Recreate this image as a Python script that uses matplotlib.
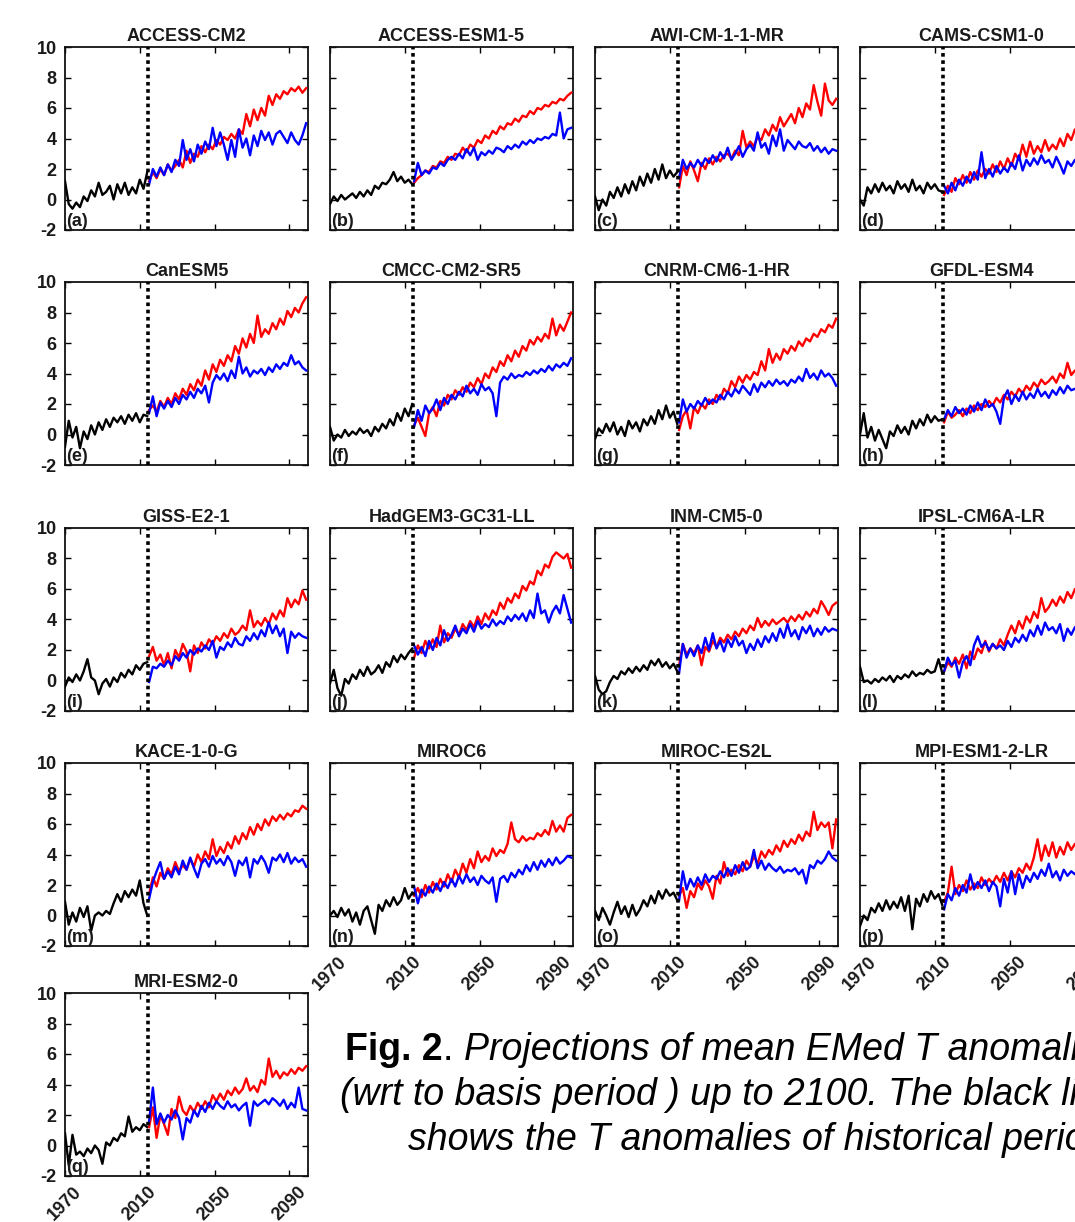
import numpy as np
import matplotlib
matplotlib.use("Agg")
import matplotlib.pyplot as plt

# ---------------- data ----------------
models = ["ACCESS-CM2", "ACCESS-ESM1-5", "AWI-CM-1-1-MR", "CAMS-CSM1-0",
          "CanESM5", "CMCC-CM2-SR5", "CNRM-CM6-1-HR", "GFDL-ESM4",
          "GISS-E2-1", "HadGEM3-GC31-LL", "INM-CM5-0", "IPSL-CM6A-LR",
          "KACE-1-0-G", "MIROC6", "MIROC-ES2L", "MPI-ESM1-2-LR", "MRI-ESM2-0"]
letters = ["(a)", "(b)", "(c)", "(d)", "(e)", "(f)", "(g)", "(h)", "(i)",
           "(j)", "(k)", "(l)", "(m)", "(n)", "(o)", "(p)", "(q)"]
x_ticks = [1970, 2010, 2050, 2090]
y_ticks = [-2, 0, 2, 4, 6, 8, 10]
hist_start, fut_start, step = 1970, 2015, 2
split_year = 2014.5

# (a) ACCESS-CM2
hist_a = [1.2, -0.3, -0.6, -0.2, -0.5, 0.2, -0.1, 0.6, 0.2, 1.1, 0.3, 0.5, 0.9, 0.0, 1.0,
          0.4, 1.1, 0.3, 0.8, 0.4, 1.3, 0.7, 1.8]
red_a = [1.2, 1.8, 1.4, 2.0, 1.6, 2.3, 1.9, 2.2, 2.6, 2.1, 3.2, 2.4, 3.0, 2.8, 3.5,
         3.1, 3.6, 3.3, 3.9, 3.6, 4.1, 3.9, 4.3, 4.0, 4.6, 4.3, 5.6, 4.8, 5.9, 5.2,
         6.0, 5.5, 6.8, 6.2, 6.9, 6.6, 7.1, 6.9, 7.3, 7.1, 7.4, 7.0, 7.3]
blue_a = [1.0, 2.0, 1.5, 2.1, 1.6, 2.3, 1.8, 2.6, 2.2, 3.9, 2.6, 3.3, 2.5, 3.6, 3.0,
          3.8, 3.3, 4.7, 3.5, 4.4, 3.6, 2.6, 3.9, 2.8, 4.6, 3.4, 4.0, 2.9, 4.2, 3.5,
          4.5, 3.9, 4.4, 3.6, 4.3, 4.5, 4.1, 3.7, 4.4, 3.9, 3.6, 4.2, 5.0]
# (b) ACCESS-ESM1-5
hist_b = [-0.3, 0.2, -0.1, 0.3, 0.0, 0.2, 0.4, 0.1, 0.5, 0.2, 0.6, 0.3, 0.9, 0.7, 1.1,
          1.0, 1.3, 1.8, 1.2, 1.5, 1.1, 1.3, 1.0]
red_b = [1.1, 1.4, 1.6, 1.9, 1.8, 2.2, 2.1, 2.5, 2.4, 2.8, 2.6, 3.0, 2.9, 3.4, 3.1,
         3.6, 3.4, 3.9, 3.7, 4.2, 4.0, 4.5, 4.3, 4.8, 4.6, 5.0, 4.9, 5.3, 5.1, 5.5,
         5.4, 5.8, 5.6, 6.0, 5.9, 6.2, 6.1, 6.4, 6.3, 6.6, 6.5, 6.8, 7.0]
blue_b = [1.2, 2.4, 1.6, 1.9, 1.7, 2.1, 2.0, 2.4, 2.2, 2.6, 2.8, 2.6, 3.0, 2.7, 3.3,
          2.9, 3.4, 2.6, 3.1, 2.9, 3.2, 3.0, 3.4, 3.3, 3.1, 3.5, 3.3, 3.6, 3.4, 3.8,
          3.6, 3.9, 3.7, 4.0, 3.9, 4.1, 4.0, 4.3, 4.2, 5.7, 4.0, 4.6, 4.7]
# (c) AWI-CM-1-1-MR
hist_c = [0.2, -0.7, 0.0, -0.4, 0.5, 0.1, 0.8, 0.2, 1.0, 0.4, 1.2, 0.6, 1.5, 0.9, 1.7,
          1.1, 2.0, 1.3, 2.3, 1.4, 1.9, 1.5, 1.8]
red_c = [0.8, 2.2, 1.6, 2.5, 1.9, 1.2, 2.4, 2.0, 2.7, 2.3, 2.8, 2.5, 2.9, 3.0, 2.7,
         3.2, 2.9, 4.5, 3.4, 3.8, 3.5, 4.1, 3.9, 4.6, 4.2, 4.9, 4.5, 5.4, 4.8, 5.2,
         5.6, 5.0, 6.0, 5.4, 6.3, 5.9, 7.5, 6.4, 5.5, 7.6, 6.5, 6.2, 6.6]
blue_c = [1.4, 2.6, 2.0, 2.4, 2.1, 2.6, 2.2, 2.7, 2.4, 2.9, 2.5, 3.1, 2.7, 3.4, 2.6,
          3.0, 3.5, 2.8, 3.3, 3.6, 3.2, 4.4, 3.4, 3.7, 3.0, 4.2, 3.5, 4.6, 3.2, 3.9,
          3.6, 3.3, 3.8, 3.5, 3.4, 3.7, 3.2, 3.5, 3.1, 3.4, 3.0, 3.3, 3.2]
# (d) CAMS-CSM1-0
hist_d = [0.0, -0.4, 0.8, 0.4, 1.0, 0.5, 1.1, 0.6, 0.9, 0.4, 1.2, 0.7, 1.0, 0.5, 1.3,
          0.6, 0.9, 0.4, 1.1, 0.7, 1.0, 0.6, 0.5]
red_d = [0.3, 0.9, 0.5, 1.4, 1.0, 1.6, 1.1, 1.8, 1.3, 1.9, 1.5, 2.0, 1.7, 2.3, 1.8,
         2.5, 2.0, 2.7, 2.2, 3.0, 2.6, 3.6, 2.8, 3.8, 3.0, 3.5, 3.1, 3.9, 3.2, 3.6,
         3.3, 4.0, 3.5, 4.3, 3.9, 4.6, 4.1, 4.8, 4.4, 5.0, 4.7, 5.1, 4.9]
blue_d = [0.9, 0.4, 1.1, 0.6, 1.3, 0.9, 1.5, 1.1, 1.8, 1.3, 3.1, 1.4, 2.0, 1.5, 2.2,
          1.7, 2.1, 1.8, 2.4, 2.0, 2.9, 1.9, 2.6, 2.2, 2.7, 2.3, 2.9, 2.4, 2.6, 2.1,
          2.8, 2.3, 1.7, 2.5, 2.2, 2.6, 2.4, 2.8, 2.5, 2.9, 2.7, 3.0, 2.8]
# (e) CanESM5
hist_e = [-0.8, 0.9, -0.2, 0.5, -0.9, 0.2, -0.3, 0.6, 0.0, 0.8, 0.3, 1.0, 0.5, 1.1, 0.8,
          1.2, 0.7, 1.3, 0.9, 1.4, 0.8, 1.3, 1.2]
red_e = [1.6, 1.9, 1.5, 2.2, 1.8, 2.4, 2.0, 2.7, 2.3, 3.0, 2.6, 3.3, 2.9, 3.6, 3.2,
         4.2, 3.6, 4.6, 4.1, 4.9, 4.5, 5.2, 4.8, 5.8, 5.3, 6.3, 5.7, 6.6, 6.0, 7.8,
         6.4, 6.9, 6.6, 7.3, 6.9, 7.6, 7.2, 8.1, 7.7, 8.3, 8.0, 8.6, 9.0]
blue_e = [1.4, 2.5, 1.2, 2.1, 1.7, 2.2, 1.8, 2.4, 2.0, 2.6, 2.3, 2.8, 2.4, 3.0, 2.7,
          3.2, 2.1, 3.4, 3.9, 3.6, 4.0, 3.5, 4.2, 3.7, 5.1, 4.0, 4.4, 3.8, 4.2, 4.0,
          4.3, 3.9, 4.4, 4.1, 4.6, 4.3, 4.7, 4.5, 5.2, 4.6, 4.8, 4.4, 4.2]
# (f) CMCC-CM2-SR5
hist_f = [0.5, -0.4, 0.0, -0.2, 0.3, -0.1, 0.2, 0.0, 0.4, 0.1, 0.3, -0.1, 0.5, 0.2, 0.7,
          0.4, 1.0, 0.6, 1.4, 0.9, 1.7, 1.2, 2.0]
red_f = [0.6, 1.1, 0.5, -0.1, 1.4, 1.8, 1.2, 2.2, 1.9, 2.6, 2.3, 2.9, 2.6, 3.1, 2.8,
         3.4, 3.1, 3.7, 3.3, 4.0, 3.7, 4.4, 4.1, 4.8, 4.5, 5.2, 4.8, 5.5, 5.1, 5.8,
         5.5, 6.2, 5.9, 6.4, 6.1, 6.6, 6.3, 7.6, 6.5, 7.2, 6.8, 7.4, 8.0]
blue_f = [0.5, 1.6, 0.9, 1.9, 1.4, 1.7, 2.3, 1.6, 2.4, 2.0, 2.6, 2.3, 2.8, 2.5, 3.2,
          2.7, 3.0, 2.6, 3.3, 2.9, 3.1, 2.7, 1.2, 3.4, 3.8, 3.6, 4.0, 3.7, 3.9, 3.8,
          4.1, 3.9, 4.2, 4.0, 4.3, 4.1, 4.5, 4.2, 4.6, 4.4, 4.7, 4.5, 5.0]
# (g) CNRM-CM6-1-HR
hist_g = [-0.3, 0.4, 0.1, 0.7, 0.2, 0.8, 0.0, 0.5, -0.1, 0.9, 0.4, 0.8, 0.2, 1.0, 0.6,
          1.2, 0.7, 1.6, 1.0, 1.9, 1.1, 1.5, 0.7]
red_g = [0.3, 1.2, 1.6, 0.4, 1.8, 1.4, 2.0, 1.7, 2.3, 2.0, 2.6, 2.3, 3.0, 2.7, 3.5,
         3.1, 3.8, 3.4, 3.9, 3.6, 4.1, 3.9, 4.8, 4.2, 5.6, 4.7, 5.3, 4.9, 5.6, 5.3,
         5.8, 5.5, 6.1, 5.8, 6.3, 6.1, 6.6, 6.4, 6.9, 6.7, 7.2, 7.0, 7.6]
blue_g = [0.8, 2.3, 1.5, 2.0, 1.7, 2.2, 1.9, 2.4, 2.0, 2.3, 2.1, 2.6, 2.3, 2.8, 2.5,
          3.0, 2.7, 3.2, 2.9, 2.6, 3.3, 2.8, 3.4, 3.1, 3.5, 3.2, 3.6, 3.3, 3.5, 3.2,
          3.6, 3.4, 3.8, 3.5, 4.3, 3.7, 4.0, 3.6, 4.2, 3.8, 4.0, 3.7, 3.2]
# (h) GFDL-ESM4
hist_h = [0.0, 1.4, -0.2, 0.5, -0.4, 0.3, -0.3, -0.9, 0.2, -0.1, 0.6, 0.1, 0.5, 0.0, 0.9,
          0.4, 1.0, 0.6, 1.3, 0.8, 1.2, 0.9, 1.0]
red_h = [0.8, 1.5, 1.1, 1.3, 1.6, 1.2, 1.7, 1.4, 1.9, 1.6, 2.0, 1.8, 2.2, 1.9, 2.4,
         2.1, 2.6, 2.3, 2.8, 2.5, 3.0, 2.7, 3.2, 2.9, 3.4, 3.1, 3.6, 3.3, 3.5, 3.8,
         3.4, 4.0, 3.7, 4.7, 3.9, 4.2, 4.0, 4.4, 4.1, 4.6, 4.3, 4.7, 4.5]
blue_h = [1.0, 1.6, 1.2, 1.8, 1.4, 1.7, 1.3, 1.9, 1.5, 2.1, 1.6, 2.3, 1.8, 2.0, 1.5,
          0.7, 2.4, 2.9, 2.0, 2.6, 2.2, 2.8, 2.3, 2.7, 2.4, 3.0, 2.5, 2.8, 2.4, 2.9,
          2.6, 3.1, 2.7, 3.2, 2.9, 3.0, 2.8, 3.3, 3.0, 3.4, 3.1, 3.5, 3.3]
# (i) GISS-E2-1
hist_i = [-0.4, 0.2, -0.1, 0.4, 0.0, 0.6, 1.4, 0.2, 0.0, -0.9, -0.2, 0.1, -0.4, 0.2, -0.1,
          0.5, 0.2, 0.7, 0.4, 1.0, 0.7, 1.1, 1.2]
red_i = [1.6, 2.2, 1.3, 1.7, 1.0, 1.8, 0.8, 2.0, 1.5, 2.4, 1.9, 0.6, 2.3, 1.8, 2.5,
         2.1, 2.7, 2.4, 2.9, 2.6, 3.1, 2.8, 3.4, 3.0, 3.2, 3.6, 3.3, 4.6, 3.5, 3.9,
         3.6, 4.1, 3.7, 4.4, 4.0, 4.6, 4.2, 5.4, 4.8, 5.3, 5.0, 5.9, 5.3]
blue_i = [-0.1, 0.9, 0.8, 1.1, 0.9, 1.3, 1.0, 1.6, 1.3, 1.8, 1.5, 2.0, 1.7, 2.1, 1.9,
          2.3, 2.0, 2.6, 1.5, 2.2, 2.0, 2.5, 2.2, 2.8, 2.4, 2.3, 2.9, 2.6, 3.1, 2.7,
          3.3, 2.9, 3.8, 3.1, 3.6, 2.9, 3.4, 1.8, 3.2, 2.8, 3.1, 2.9, 2.8]
# (j) HadGEM3-GC31-LL
hist_j = [-0.2, 0.7, -0.5, -1.0, 0.1, -0.2, 0.4, 0.1, 0.7, 0.3, 0.9, 0.4, 0.6, 1.0, 0.5,
          1.2, 0.9, 1.6, 1.2, 1.7, 1.4, 1.8, 2.1]
red_j = [1.5, 2.3, 1.8, 2.6, 2.1, 2.7, 2.2, 3.6, 2.5, 3.1, 2.8, 3.4, 3.0, 3.7, 3.3,
         3.9, 3.5, 4.2, 3.7, 4.4, 4.0, 4.6, 4.3, 5.1, 4.7, 5.4, 5.1, 5.7, 5.4, 6.2,
         5.9, 6.5, 6.3, 7.2, 6.9, 7.6, 7.4, 8.1, 8.4, 8.2, 8.0, 8.3, 7.4]
blue_j = [2.3, 1.7, 2.2, 1.6, 2.6, 2.0, 2.8, 2.3, 3.3, 2.6, 3.0, 3.6, 2.9, 3.4, 3.1,
          3.7, 3.2, 3.9, 3.4, 3.7, 3.5, 4.0, 3.6, 3.9, 3.7, 4.2, 3.9, 4.3, 4.0, 4.4,
          3.9, 4.6, 4.1, 5.7, 4.4, 4.6, 3.8, 4.5, 4.9, 4.4, 5.6, 4.7, 3.8]
# (k) INM-CM5-0
hist_k = [0.3, -0.6, -0.9, -0.7, -0.1, 0.3, 0.1, 0.6, 0.4, 0.8, 0.5, 0.9, 0.6, 1.0, 0.7,
          1.3, 1.0, 1.4, 0.9, 1.2, 0.8, 1.1, 0.6]
red_k = [1.0, 2.4, 1.7, 2.1, 1.8, 2.3, 1.0, 2.2, 1.9, 2.6, 2.2, 2.8, 2.5, 3.0, 2.7,
         3.2, 2.9, 3.4, 3.1, 3.6, 3.3, 4.1, 3.5, 3.9, 3.6, 4.0, 3.7, 3.9, 4.1, 3.8,
         4.2, 3.9, 4.3, 4.0, 4.5, 4.2, 4.7, 4.4, 5.2, 4.8, 4.3, 4.9, 5.1]
blue_k = [0.5, 2.4, 1.5, 2.1, 1.6, 2.3, 1.8, 2.8, 2.0, 3.1, 2.1, 2.6, 1.9, 2.7, 2.2,
          2.9, 2.3, 2.6, 1.8, 2.4, 2.0, 2.7, 2.2, 2.9, 2.5, 3.1, 2.6, 3.4, 2.8, 3.7,
          2.9, 3.3, 2.7, 3.5, 3.1, 3.6, 2.9, 3.4, 3.0, 3.5, 3.2, 3.4, 3.3]
# (l) IPSL-CM6A-LR
hist_l = [0.9, -0.1, 0.0, -0.2, 0.1, -0.1, 0.2, 0.0, 0.3, -0.1, 0.3, 0.1, 0.4, 0.2, 0.6,
          0.3, 0.5, 0.4, 0.7, 0.5, 0.6, 1.4, 0.5]
red_l = [0.6, 1.2, 0.9, 1.5, 1.1, 1.7, 0.8, 1.9, 1.4, 2.1, 1.8, 2.6, 1.9, 2.4, 2.1,
         2.7, 2.3, 3.0, 3.6, 3.1, 3.9, 3.4, 4.2, 3.8, 4.5, 4.1, 5.4, 4.5, 4.8, 5.3,
         4.9, 5.5, 5.1, 5.8, 5.4, 6.0, 5.7, 6.3, 6.0, 6.5, 6.2, 6.8, 6.5]
blue_l = [0.6, 1.5, 1.0, 1.3, 0.2, 1.2, 1.6, 1.0, 2.3, 2.9, 2.2, 2.5, 2.0, 2.4, 2.1,
          2.3, 2.0, 2.6, 2.2, 2.8, 2.5, 3.0, 2.6, 3.3, 2.9, 3.6, 3.0, 3.8, 3.3, 3.5,
          3.1, 3.7, 2.6, 3.4, 3.0, 3.5, 3.2, 3.7, 3.4, 3.8, 3.5, 3.9, 3.6]
# (m) KACE-1-0-G
hist_m = [0.9, -0.6, 0.2, -0.4, 0.5, -0.1, 0.6, -1.0, 0.0, 0.2, 0.0, 0.3, 0.1, 0.8, 1.4,
          0.9, 1.6, 1.2, 1.7, 1.3, 2.3, 0.8, 0.0]
red_m = [1.4, 2.5, 1.9, 2.8, 2.4, 3.1, 2.7, 3.5, 2.9, 3.3, 3.0, 3.7, 3.2, 4.0, 3.5,
         4.2, 3.7, 5.0, 3.9, 4.5, 4.1, 4.8, 4.4, 5.2, 4.7, 5.4, 5.0, 5.8, 5.3, 6.0,
         5.6, 6.3, 5.9, 6.5, 6.2, 6.6, 6.3, 6.7, 6.5, 6.9, 6.8, 7.2, 7.0]
blue_m = [1.1, 2.2, 2.9, 3.5, 2.4, 2.9, 2.5, 3.2, 2.7, 3.6, 3.0, 3.8, 3.1, 2.5, 3.4,
          3.7, 3.2, 3.9, 3.4, 3.7, 3.3, 3.9, 3.5, 2.6, 3.6, 3.3, 3.8, 2.5, 3.7, 3.4,
          3.9, 3.5, 2.8, 3.8, 3.6, 4.0, 3.5, 4.1, 3.4, 3.8, 3.5, 3.7, 3.2]
# (n) MIROC6
hist_n = [0.0, 0.3, -0.1, 0.5, 0.0, 0.4, -0.4, 0.2, -0.6, 0.3, 0.6, -0.3, -1.2, 0.7, 0.3,
          1.0, 0.6, 1.2, 0.7, 1.0, 1.8, 1.1, 1.5]
red_n = [1.3, 1.8, 1.2, 2.0, 1.5, 2.2, 1.7, 2.4, 1.9, 2.7, 2.2, 3.0, 2.5, 3.4, 2.8,
         3.7, 3.1, 4.2, 3.5, 3.9, 3.6, 4.4, 3.9, 4.3, 4.1, 4.7, 6.1, 5.0, 4.8, 5.2,
         4.9, 5.1, 5.0, 5.4, 5.2, 5.6, 5.3, 6.2, 5.5, 5.9, 5.5, 6.4, 6.6]
blue_n = [1.9, 0.8, 1.7, 1.3, 1.9, 1.5, 2.1, 1.6, 2.2, 1.8, 2.4, 1.9, 2.6, 2.1, 2.7,
          2.2, 2.5, 2.0, 2.6, 2.3, 2.1, 2.5, 0.9, 2.4, 2.6, 2.2, 2.8, 2.5, 3.0, 2.7,
          3.3, 2.9, 3.5, 3.0, 3.6, 3.2, 3.7, 3.3, 3.8, 3.4, 3.6, 3.9, 3.8]
# (o) MIROC-ES2L
hist_o = [0.3, -0.3, 0.5, 0.0, -0.6, 0.2, 0.9, 0.1, 0.6, -0.1, 0.7, 0.0, 0.4, 1.0, 0.6,
          1.3, 0.8, 1.6, 1.1, 1.7, 1.3, 1.5, 1.0]
red_o = [1.3, 1.8, 0.5, 1.6, 1.2, 2.1, 1.7, 2.3, 1.9, 1.1, 2.6, 2.1, 3.5, 2.6, 3.0,
         2.7, 3.3, 2.9, 3.6, 3.2, 3.9, 3.4, 4.2, 3.8, 4.3, 4.0, 4.6, 4.2, 4.9, 4.5,
         5.0, 4.7, 5.3, 4.9, 5.5, 5.2, 6.8, 5.6, 6.1, 5.8, 6.1, 4.4, 6.3]
blue_o = [1.0, 2.9, 1.7, 2.4, 1.9, 2.5, 2.0, 2.7, 2.2, 2.6, 2.4, 2.9, 2.5, 3.1, 2.6,
          3.3, 2.8, 3.5, 3.0, 3.2, 4.3, 3.1, 3.6, 3.0, 3.4, 3.1, 2.9, 3.2, 2.8, 3.0,
          2.9, 3.1, 2.7, 3.0, 2.1, 3.3, 3.1, 3.6, 3.4, 3.7, 4.2, 3.8, 3.6]
# (p) MPI-ESM1-2-LR
hist_p = [-0.7, 0.0, -0.3, 0.5, 0.2, 0.8, 0.3, 1.0, 0.4, 0.9, 0.5, 1.2, 0.3, 1.3, -0.9,
          1.1, 0.6, 1.4, 0.9, 1.6, 1.1, 1.4, 0.7]
red_p = [0.9, 1.5, 3.2, 1.4, 2.0, 1.6, 2.3, 1.7, 2.1, 1.8, 2.5, 2.0, 2.4, 2.1, 2.6,
         2.2, 2.8, 2.3, 2.9, 2.5, 3.1, 2.8, 3.4, 3.0, 3.8, 5.0, 3.6, 4.6, 3.9, 4.8,
         3.8, 4.5, 4.0, 4.8, 4.3, 4.7, 4.4, 5.0, 4.6, 5.2, 4.8, 5.3, 5.0]
blue_p = [0.4, 1.4, 1.0, 1.8, 1.3, 2.0, 1.5, 2.7, 1.7, 2.2, 1.8, 2.3, 1.6, 2.2, 1.9,
          0.6, 2.4, 1.5, 2.9, 1.4, 2.7, 1.8, 2.6, 2.2, 2.8, 2.4, 3.0, 2.6, 3.4, 2.5,
          2.9, 2.3, 3.0, 2.6, 2.9, 2.7, 3.1, 2.8, 3.2, 2.9, 3.1, 2.8, 3.0]
# (q) MRI-ESM2-0
hist_q = [0.8, -1.3, 0.7, -0.6, -0.4, -0.7, -0.2, -0.5, 0.0, -0.3, -1.2, 0.2, 0.0, 0.5, 0.3,
          0.8, 0.6, 1.9, 0.9, 1.2, 1.0, 1.4, 1.2]
red_q = [1.2, 2.5, 0.5, 2.0, 1.4, 0.7, 2.4, 1.8, 3.2, 2.3, 2.0, 2.6, 2.2, 2.8, 2.4,
         2.9, 2.5, 3.3, 2.9, 3.4, 3.0, 3.6, 3.3, 3.8, 3.4, 3.7, 4.4, 3.6, 3.9, 3.5,
         4.3, 4.0, 5.7, 4.5, 4.9, 4.4, 4.8, 4.6, 5.0, 4.7, 5.1, 4.9, 5.2]
blue_q = [1.6, 3.8, 1.4, 2.1, 1.5, 2.0, 1.7, 2.3, 1.8, 0.4, 1.8, 1.5, 2.3, 1.9, 2.6,
          2.2, 2.8, 2.4, 2.9, 2.6, 2.4, 2.9, 2.5, 2.7, 2.3, 2.6, 2.8, 1.3, 2.9, 2.6,
          2.8, 3.0, 2.7, 3.1, 2.9, 2.6, 3.0, 2.4, 2.8, 2.5, 3.8, 2.4, 2.3]

hist_series = [hist_a, hist_b, hist_c, hist_d, hist_e, hist_f, hist_g, hist_h, hist_i,
               hist_j, hist_k, hist_l, hist_m, hist_n, hist_o, hist_p, hist_q]
red_series = [red_a, red_b, red_c, red_d, red_e, red_f, red_g, red_h, red_i,
              red_j, red_k, red_l, red_m, red_n, red_o, red_p, red_q]
blue_series = [blue_a, blue_b, blue_c, blue_d, blue_e, blue_f, blue_g, blue_h, blue_i,
               blue_j, blue_k, blue_l, blue_m, blue_n, blue_o, blue_p, blue_q]

caption_bold = "Fig. 2"
caption_line1 = "Projections of mean EMed T anomalies"
caption_line2 = "(wrt to basis period ) up to 2100. The black line"
caption_line3 = "shows the T anomalies of historical period"

# ---------------- layout ----------------
FW, FH = 1075, 1222
plt.rcParams["font.family"] = ["Liberation Sans", "DejaVu Sans"]
fig = plt.figure(figsize=(FW / 100, FH / 100), dpi=100)
fig.patch.set_facecolor("white")

col_left = [65, 330, 595, 860]
row_top = [47, 282, 528, 763, 993]
W, H = 243, 183
TXT = "#1a1a1a"

for i, name in enumerate(models):
    r, c = divmod(i, 4)
    ax = fig.add_axes([col_left[c] / FW, 1 - (row_top[r] + H) / FH, W / FW, H / FH])
    h = np.asarray(hist_series[i])
    rd = np.asarray(red_series[i])
    bl = np.asarray(blue_series[i])
    hy = hist_start + step * np.arange(len(h))
    fy = fut_start + step * np.arange(len(rd))
    fyb = fut_start + step * np.arange(len(bl))
    ax.plot(hy, h, color="black", lw=1.7, zorder=3)
    ax.plot(fy, rd, color="#ff0000", lw=1.7, zorder=3)
    ax.plot(fyb, bl, color="#0000ff", lw=1.7, zorder=4)
    ax.axvline(split_year, color="black", lw=2.6, ls=(0, (1, 1.0)), zorder=5)
    ax.set_xlim(1970, 2100)
    ax.set_ylim(-2, 10)
    ax.set_xticks(x_ticks)
    ax.set_yticks(y_ticks)
    ax.tick_params(axis="both", direction="in", length=4, width=1.0,
                   top=True, right=True, colors="black", labelcolor=TXT, labelsize=13)
    ax.tick_params(axis="y", pad=6)
    ax.tick_params(axis="x", pad=5)
    for sp in ax.spines.values():
        sp.set_linewidth(1.3)
        sp.set_color("#111111")
    if c == 0:
        ax.set_yticklabels([str(v) for v in y_ticks], fontweight="bold")
    else:
        ax.set_yticklabels([])
    if (r == 3 and c > 0) or r == 4:
        ax.set_xticklabels([str(v) for v in x_ticks], rotation=45, ha="center",
                           fontweight="bold")
    else:
        ax.set_xticklabels([])
    ax.set_title(name, fontsize=13, fontweight="bold", color=TXT, pad=4)
    ax.text(0.004, 0.0, letters[i], transform=ax.transAxes, ha="left", va="bottom",
            fontsize=13, fontweight="bold", color=TXT, zorder=6)

# ---------------- caption ----------------
CFS = 27
fig.canvas.draw()
rend = fig.canvas.get_renderer()
em_px = CFS * 100 / 72.0


def put_line(x_px, base_px, parts):
    x = x_px
    for s, style, gap in parts:
        t = fig.text(x / FW, 1 - base_px / FH, s, fontsize=CFS, va="baseline",
                     ha="left", color="black", **style)
        bb = t.get_window_extent(renderer=rend)
        x = bb.x1 + gap * em_px


put_line(345, 1060, [(caption_bold, {"fontweight": "bold"}, 0.0),
                     (".", {}, 0.28),
                     (caption_line1, {"fontstyle": "italic"}, 0.0)])
put_line(340, 1105, [(caption_line2, {"fontstyle": "italic"}, 0.0)])
put_line(408, 1150, [(caption_line3, {"fontstyle": "italic"}, 0.0)])

fig.savefig("out.png", dpi=100, facecolor="white")
